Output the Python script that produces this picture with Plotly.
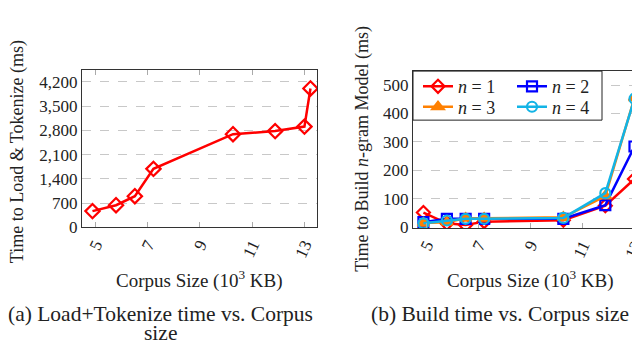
import plotly.graph_objects as go

# ---- data ----
corpus_size = [4.9, 5.8, 6.52, 7.23, 10.27, 11.88, 13.0, 13.23]
load_tokenize_ms = [470, 640, 900, 1690, 2690, 2780, 2910, 4010]

build_n1 = [52, 14, 8, 20, 25, 76, 170, 235]
build_n2 = [18, 30, 30, 30, 30, 78, 284, 231]
build_n3 = [15, 18, 32, 32, 35, 110, 455, 486]
build_n4 = [14, 24, 30, 30, 33, 120, 452, 452]

x_ticks = [5, 7, 9, 11, 13]
left_y_ticks = [0, 700, 1400, 2100, 2800, 3500, 4200]
left_y_labels = ["0", "700", "1,400", "2,100", "2,800", "3,500", "4,200"]
right_y_ticks = [0, 100, 200, 300, 400, 500]

FONT = "Liberation Serif"
W, H = 640, 343


def px_x(p):
    return p / W


def px_y(p):
    return 1 - p / H


fig = go.Figure()

fig.add_trace(go.Scatter(
    x=corpus_size, y=load_tokenize_ms, mode="lines+markers",
    line=dict(color="#ff0000", width=2.5),
    marker=dict(symbol="diamond-open", size=11, color="#ff0000", line=dict(width=2.2, color="#ff0000")),
    xaxis="x", yaxis="y", showlegend=False))

series = [
    ("<i>n</i> = 1", build_n1, "#ff0000", "diamond-open", "legend"),
    ("<i>n</i> = 2", build_n2, "#0000ff", "square-open", "legend"),
    ("<i>n</i> = 3", build_n3, "#ff8000", "triangle-up", "legend2"),
    ("<i>n</i> = 4", build_n4, "#12b4e6", "circle-open", "legend2"),
]
for name, vals, col, sym, leg in series:
    fig.add_trace(go.Scatter(
        x=corpus_size, y=vals, mode="lines+markers", name=name, legend=leg,
        line=dict(color=col, width=2.5),
        marker=dict(symbol=sym, size=10, color=col, line=dict(width=2.2, color=col)),
        xaxis="x2", yaxis="y2"))

common_x = dict(
    range=[4.5, 13.48], tickvals=x_ticks, tickangle=-65,
    showline=True, linecolor="#333", linewidth=1, mirror="allticks",
    ticks="inside", ticklen=5, tickcolor="#aaa",
    showgrid=False, zeroline=False,
    tickfont=dict(family=FONT, size=17, color="#222"),
)
common_y = dict(
    showline=True, linecolor="#333", linewidth=1, mirror=True,
    ticks="", showgrid=True, gridcolor="#c8c8c8", griddash="dash", gridwidth=1,
    zeroline=False, tickfont=dict(family=FONT, size=17, color="#222"),
)

leg_common = dict(
    xanchor="left", yanchor="middle", orientation="h",
    bgcolor="rgba(0,0,0,0)", borderwidth=0,
    font=dict(family=FONT, size=18, color="#222"),
    itemwidth=30, entrywidth=49, entrywidthmode="pixels",
)

fig.update_layout(
    width=W, height=H, margin=dict(l=0, r=0, t=0, b=0),
    plot_bgcolor="white", paper_bgcolor="white",
    xaxis=dict(domain=[px_x(74), px_x(309)], anchor="y", **common_x),
    yaxis=dict(domain=[px_y(226), px_y(64)], anchor="x", range=[0, 4540],
               tickvals=left_y_ticks, ticktext=left_y_labels, **common_y),
    xaxis2=dict(domain=[px_x(405), px_x(639)], anchor="y2", **common_x),
    yaxis2=dict(domain=[px_y(226.5), px_y(65)], anchor="x2", range=[-2, 549],
                tickvals=right_y_ticks, **common_y),
    legend=dict(x=px_x(410), y=px_y(81), **leg_common),
    legend2=dict(x=px_x(410), y=px_y(102), **leg_common),
)

# legend frame
fig.add_shape(type="rect", xref="paper", yref="paper",
              x0=px_x(405), x1=px_x(594), y0=px_y(115.5), y1=px_y(65),
              fillcolor="white", line=dict(color="#222", width=1), layer="above")

ann = [
    dict(text="Time to Load &amp; Tokenize (ms)", x=px_x(9.5), y=px_y(148), textangle=-90, size=18, ya="middle"),
    dict(text="Time to Build <i>n</i>-gram Model (ms)", x=px_x(355), y=px_y(145), textangle=-90, size=18, ya="middle"),
    dict(text="Corpus Size (10<sup>3</sup> KB)", x=px_x(191), y=px_y(280), textangle=0, size=19, ya="middle"),
    dict(text="Corpus Size (10<sup>3</sup> KB)", x=px_x(522), y=px_y(280), textangle=0, size=19, ya="middle"),
    dict(text="(a) Load+Tokenize time vs. Corpus", x=px_x(152), y=px_y(315), textangle=0, size=21.5, ya="middle"),
    dict(text="size", x=px_x(152), y=px_y(320), textangle=0, size=21.5, ya="top"),
    dict(text="(b) Build time vs. Corpus size", x=px_x(492), y=px_y(315), textangle=0, size=21.5, ya="middle"),
]
for a in ann:
    fig.add_annotation(
        text=a["text"], x=a["x"], y=a["y"], xref="paper", yref="paper",
        xanchor="center", yanchor=a["ya"], textangle=a["textangle"],
        showarrow=False, font=dict(family=FONT, size=a["size"], color="#222"))

fig.write_html("out.html")
